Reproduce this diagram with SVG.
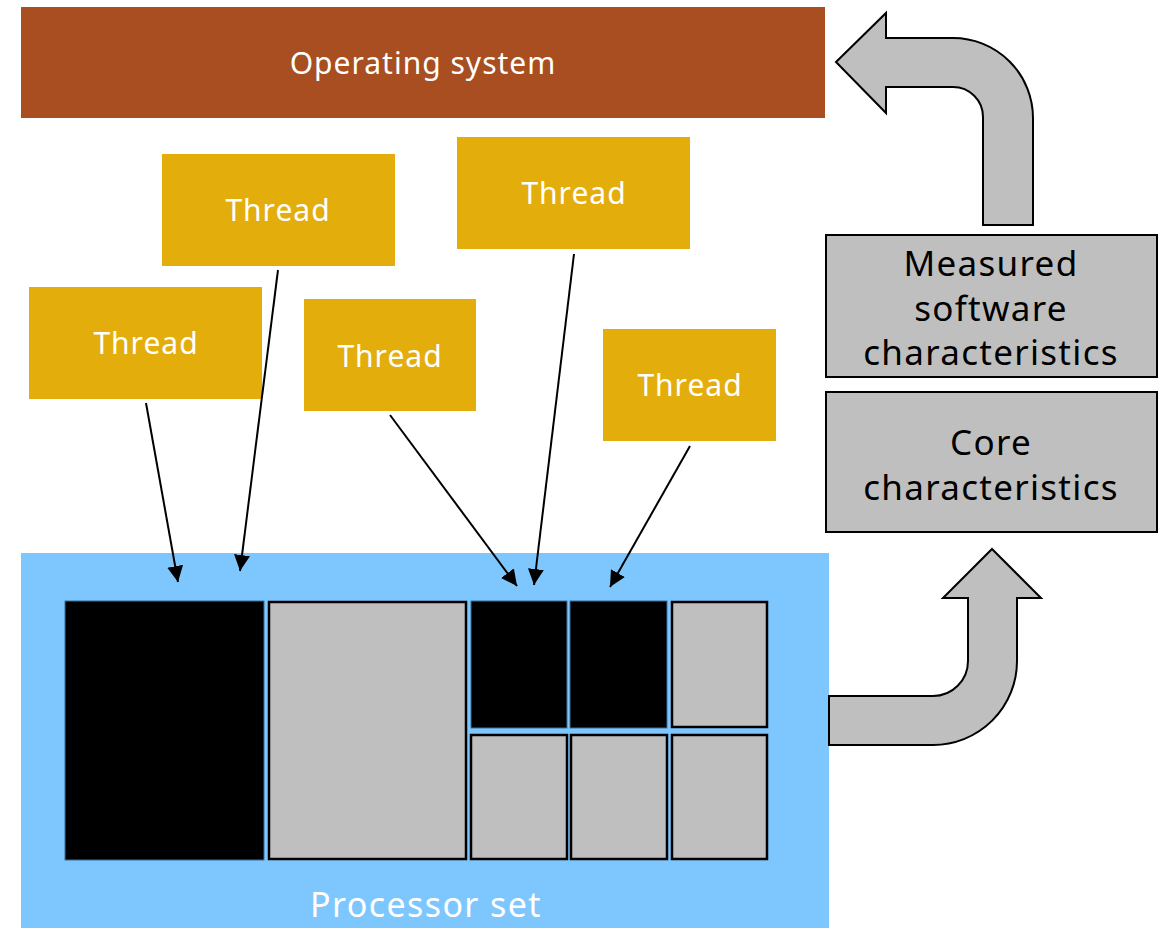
<svg xmlns="http://www.w3.org/2000/svg" width="1167" height="928" viewBox="0 0 1167 928">
  <defs>
    <style>
      .lbl { font-family: "Noto Sans", "Liberation Sans", sans-serif; text-anchor: middle; dominant-baseline: central; }
      .white { fill: #ffffff; }
      .dark { fill: #000000; }
      .thread { fill: #E3AE0C; }
      .thread-lbl { font-size: 30px; letter-spacing: 1px; }
      .side-lbl { font-size: 35px; letter-spacing: 1.3px; }
      .gray { fill: #BFBFBF; stroke: #000000; stroke-width: 2; }
      .core-on { fill: #000000; stroke: #3a6f99; stroke-width: 1; }
      .core-off { fill: #BFBFBF; stroke: #000000; stroke-width: 2.5; }
      .conn { stroke: #000000; stroke-width: 2; fill: none; marker-end: url(#head); }
      .bend { fill: #BFBFBF; stroke: #000000; stroke-width: 2; stroke-linejoin: miter; }
    </style>
    <marker id="head" viewBox="0 0 10 10" refX="10" refY="5" markerWidth="8" markerHeight="8" markerUnits="strokeWidth" orient="auto">
      <path d="M0,0 L10,5 L0,10 Z" fill="#000000"/>
    </marker>
  </defs>

  <rect width="1167" height="928" fill="#ffffff"/>

  <g id="os">
    <rect x="21" y="7" width="804" height="111" fill="#A84E20"/>
    <text class="lbl white" x="423" y="62" font-size="30" letter-spacing="1">Operating system</text>
  </g>

  <g id="processor-set">
    <rect x="21" y="553" width="808" height="375" fill="#7DC7FE"/>
    <text class="lbl white" x="426" y="904" font-size="34" letter-spacing="1.4">Processor set</text>
    <rect class="core-on" x="65" y="601" width="199" height="259"/>
    <rect class="core-off" x="269" y="602" width="197" height="257"/>
    <rect class="core-on" x="471" y="601" width="96" height="127"/>
    <rect class="core-on" x="570" y="601" width="97" height="127"/>
    <rect class="core-off" x="672" y="602" width="95" height="125"/>
    <rect class="core-off" x="471" y="735" width="96" height="124"/>
    <rect class="core-off" x="571" y="735" width="96" height="124"/>
    <rect class="core-off" x="672" y="735" width="95" height="124"/>
  </g>

  <g id="thread-1">
    <rect class="thread" x="162" y="154" width="233" height="112"/>
    <text class="lbl white thread-lbl" x="278" y="209">Thread</text>
  </g>
  <g id="thread-2">
    <rect class="thread" x="457" y="137" width="233" height="112"/>
    <text class="lbl white thread-lbl" x="574" y="192">Thread</text>
  </g>
  <g id="thread-3">
    <rect class="thread" x="29" y="287" width="233" height="112"/>
    <text class="lbl white thread-lbl" x="146" y="342">Thread</text>
  </g>
  <g id="thread-4">
    <rect class="thread" x="304" y="299" width="172" height="112"/>
    <text class="lbl white thread-lbl" x="390" y="355">Thread</text>
  </g>
  <g id="thread-5">
    <rect class="thread" x="603" y="329" width="173" height="112"/>
    <text class="lbl white thread-lbl" x="690" y="384">Thread</text>
  </g>

  <g id="measured">
    <rect class="gray" x="826" y="235" width="331" height="142"/>
    <text class="lbl dark side-lbl" x="991" y="262">Measured</text>
    <text class="lbl dark side-lbl" x="991" y="307">software</text>
    <text class="lbl dark side-lbl" x="991" y="351">characteristics</text>
  </g>

  <g id="core-char">
    <rect class="gray" x="826" y="392" width="331" height="140"/>
    <text class="lbl dark side-lbl" x="991" y="441">Core</text>
    <text class="lbl dark side-lbl" x="991" y="486">characteristics</text>
  </g>

  <g id="feedback">
    <path class="bend" d="M836 62 L886 13 L886 38 L953 38 A80 80 0 0 1 1033 118 L1033 225 L983 225 L983 117 A30 30 0 0 0 953 87 L886 87 L886 113 Z"/>
    <path class="bend" d="M992 549 L1041 598 L1017 598 L1017 661 A84 84 0 0 1 933 745 L829 745 L829 696 L933 696 A35 35 0 0 0 968 661 L968 598 L943 598 Z"/>
  </g>

  <g id="connectors">
    <line class="conn" x1="146" y1="403" x2="178" y2="582"/>
    <line class="conn" x1="278" y1="270" x2="240" y2="571"/>
    <line class="conn" x1="390" y1="415" x2="517" y2="586"/>
    <line class="conn" x1="574" y1="254" x2="534" y2="585"/>
    <line class="conn" x1="690" y1="446" x2="610" y2="587"/>
  </g>
</svg>
